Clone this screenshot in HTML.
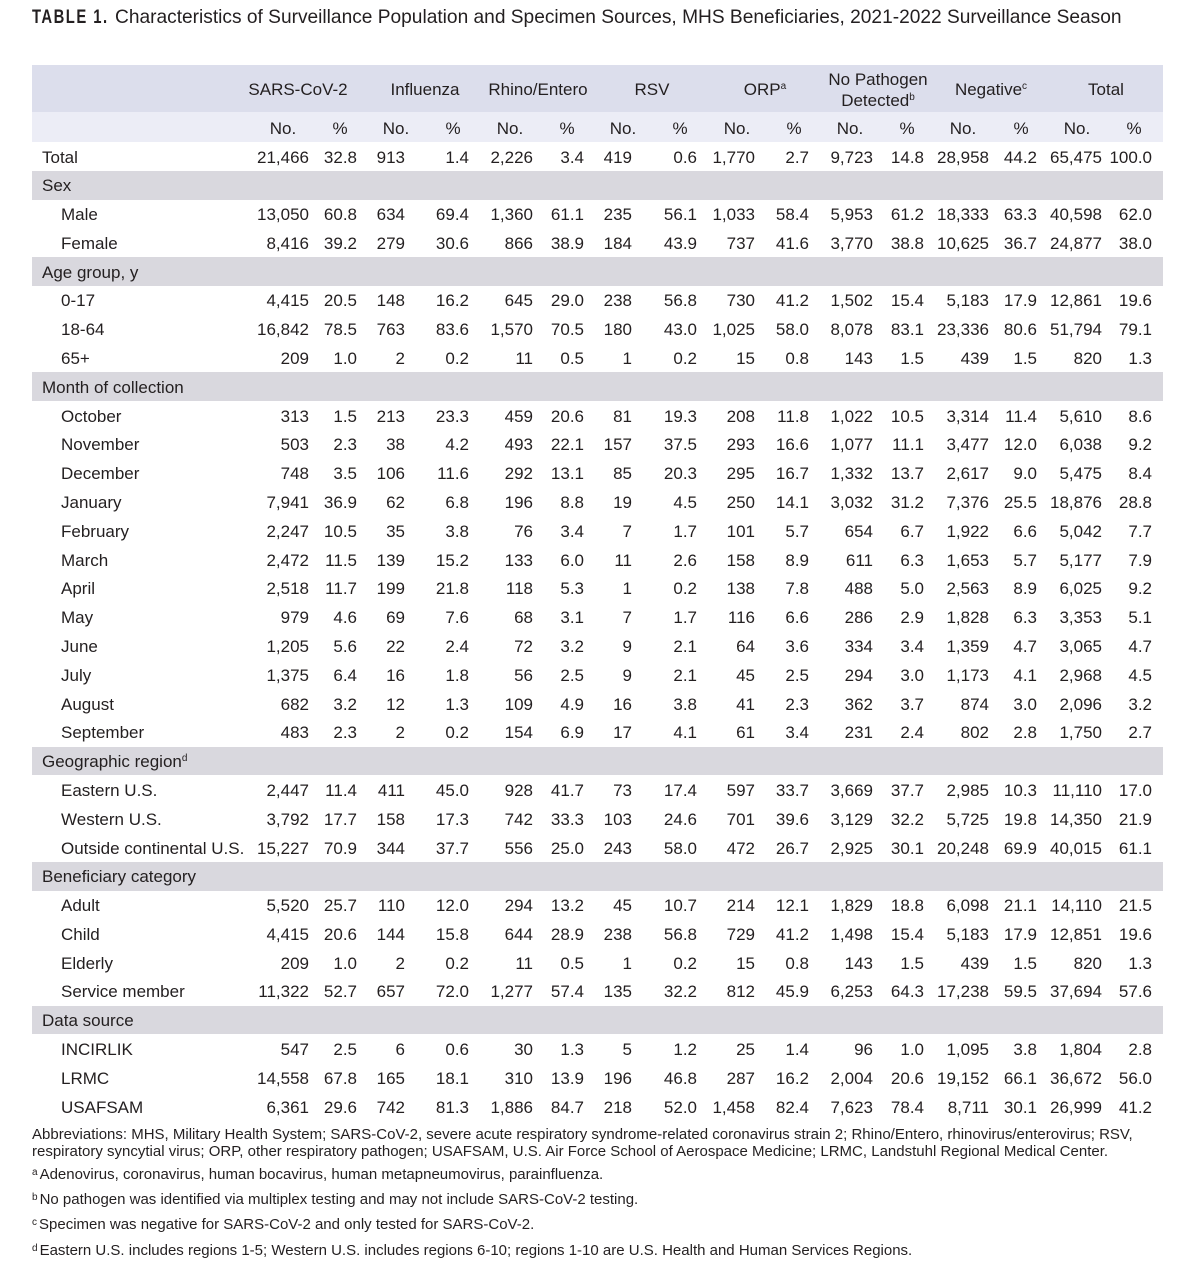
<!DOCTYPE html>
<html><head><meta charset="utf-8">
<style>
*{margin:0;padding:0;box-sizing:border-box}
html,body{width:1200px;height:1285px;background:#fff;overflow:hidden}
body{position:relative;font-family:"Liberation Sans",Arial,sans-serif;color:#231f20}
.t1{position:absolute;left:32px;top:6px;font-size:19px;font-weight:bold;letter-spacing:1.9px;transform:scaleX(0.78);transform-origin:left top;white-space:nowrap;line-height:24px}
.t2{position:absolute;left:115px;top:6px;font-size:19.15px;white-space:nowrap;line-height:24px}
.h1{position:absolute;left:32px;width:1131px;top:65px;height:47px;background:#dcdeec}
.h2{position:absolute;left:32px;width:1131px;top:112px;height:30px;background:#ecedf6}
.hc{position:absolute;font-size:17px;line-height:20px;text-align:center;white-space:nowrap;width:140px}
.band{position:absolute;left:32px;width:1131px;height:28.8px;background:#d9d8de}
.r{position:absolute;left:0;width:1200px;height:28.8px;line-height:28.8px;font-size:17px;white-space:nowrap}
.r span{position:absolute;top:1.5px}
.r span:nth-child(1){left:61px}
.r.s span:nth-child(1),.r.tt span:nth-child(1){left:42px}
.r span:nth-child(2){right:891px}
.r span:nth-child(3){right:843px}
.r span:nth-child(4){right:795px}
.r span:nth-child(5){right:731px}
.r span:nth-child(6){right:667px}
.r span:nth-child(7){right:616px}
.r span:nth-child(8){right:568px}
.r span:nth-child(9){right:503px}
.r span:nth-child(10){right:445px}
.r span:nth-child(11){right:391px}
.r span:nth-child(12){right:327px}
.r span:nth-child(13){right:276px}
.r span:nth-child(14){right:211px}
.r span:nth-child(15){right:163px}
.r span:nth-child(16){right:98px}
.r span:nth-child(17){right:48px}
sup{font-size:10px;vertical-align:0;position:relative;top:-6px}
.fn{position:absolute;left:32px;font-size:15px;line-height:17px;white-space:nowrap}
.fn sup{font-size:10px;top:-4px;margin-right:2px}
</style></head><body>
<div class="t1">TABLE 1.</div>
<div class="t2">Characteristics of Surveillance Population and Specimen Sources, MHS Beneficiaries, 2021-2022 Surveillance Season</div>

<div class="h1"></div>
<div class="h2"></div>
<div class="hc" style="left:228px;top:80px">SARS-CoV-2</div>
<div class="hc" style="left:355px;top:80px">Influenza</div>
<div class="hc" style="left:468px;top:80px">Rhino/Entero</div>
<div class="hc" style="left:582px;top:80px">RSV</div>
<div class="hc" style="left:695px;top:80px">ORP<sup>a</sup></div>
<div class="hc" style="left:808px;top:70px">No Pathogen</div>
<div class="hc" style="left:808px;top:91px">Detected<sup>b</sup></div>
<div class="hc" style="left:921px;top:80px">Negative<sup>c</sup></div>
<div class="hc" style="left:1036px;top:80px">Total</div>

<div class="hc" style="left:213px;top:119px">No.</div>
<div class="hc" style="left:270px;top:119px">%</div>
<div class="hc" style="left:326px;top:119px">No.</div>
<div class="hc" style="left:383px;top:119px">%</div>
<div class="hc" style="left:440px;top:119px">No.</div>
<div class="hc" style="left:497px;top:119px">%</div>
<div class="hc" style="left:553px;top:119px">No.</div>
<div class="hc" style="left:610px;top:119px">%</div>
<div class="hc" style="left:667px;top:119px">No.</div>
<div class="hc" style="left:724px;top:119px">%</div>
<div class="hc" style="left:780px;top:119px">No.</div>
<div class="hc" style="left:837px;top:119px">%</div>
<div class="hc" style="left:893px;top:119px">No.</div>
<div class="hc" style="left:951px;top:119px">%</div>
<div class="hc" style="left:1007px;top:119px">No.</div>
<div class="hc" style="left:1064px;top:119px">%</div>

<div class="band" style="top:170.8px"></div>
<div class="band" style="top:257.2px"></div>
<div class="band" style="top:372.3px"></div>
<div class="band" style="top:746.6px"></div>
<div class="band" style="top:861.8px"></div>
<div class="band" style="top:1005.7px"></div>

<div class="r tt" style="top:142px"><span>Total</span><span>21,466</span><span>32.8</span><span>913</span><span>1.4</span><span>2,226</span><span>3.4</span><span>419</span><span>0.6</span><span>1,770</span><span>2.7</span><span>9,723</span><span>14.8</span><span>28,958</span><span>44.2</span><span>65,475</span><span>100.0</span></div>
<div class="r s" style="top:170.8px"><span>Sex</span></div>
<div class="r" style="top:199.6px"><span>Male</span><span>13,050</span><span>60.8</span><span>634</span><span>69.4</span><span>1,360</span><span>61.1</span><span>235</span><span>56.1</span><span>1,033</span><span>58.4</span><span>5,953</span><span>61.2</span><span>18,333</span><span>63.3</span><span>40,598</span><span>62.0</span></div>
<div class="r" style="top:228.4px"><span>Female</span><span>8,416</span><span>39.2</span><span>279</span><span>30.6</span><span>866</span><span>38.9</span><span>184</span><span>43.9</span><span>737</span><span>41.6</span><span>3,770</span><span>38.8</span><span>10,625</span><span>36.7</span><span>24,877</span><span>38.0</span></div>
<div class="r s" style="top:257.2px"><span>Age group, y</span></div>
<div class="r" style="top:285.9px"><span>0-17</span><span>4,415</span><span>20.5</span><span>148</span><span>16.2</span><span>645</span><span>29.0</span><span>238</span><span>56.8</span><span>730</span><span>41.2</span><span>1,502</span><span>15.4</span><span>5,183</span><span>17.9</span><span>12,861</span><span>19.6</span></div>
<div class="r" style="top:314.7px"><span>18-64</span><span>16,842</span><span>78.5</span><span>763</span><span>83.6</span><span>1,570</span><span>70.5</span><span>180</span><span>43.0</span><span>1,025</span><span>58.0</span><span>8,078</span><span>83.1</span><span>23,336</span><span>80.6</span><span>51,794</span><span>79.1</span></div>
<div class="r" style="top:343.5px"><span>65+</span><span>209</span><span>1.0</span><span>2</span><span>0.2</span><span>11</span><span>0.5</span><span>1</span><span>0.2</span><span>15</span><span>0.8</span><span>143</span><span>1.5</span><span>439</span><span>1.5</span><span>820</span><span>1.3</span></div>
<div class="r s" style="top:372.3px"><span>Month of collection</span></div>
<div class="r" style="top:401.1px"><span>October</span><span>313</span><span>1.5</span><span>213</span><span>23.3</span><span>459</span><span>20.6</span><span>81</span><span>19.3</span><span>208</span><span>11.8</span><span>1,022</span><span>10.5</span><span>3,314</span><span>11.4</span><span>5,610</span><span>8.6</span></div>
<div class="r" style="top:429.9px"><span>November</span><span>503</span><span>2.3</span><span>38</span><span>4.2</span><span>493</span><span>22.1</span><span>157</span><span>37.5</span><span>293</span><span>16.6</span><span>1,077</span><span>11.1</span><span>3,477</span><span>12.0</span><span>6,038</span><span>9.2</span></div>
<div class="r" style="top:458.7px"><span>December</span><span>748</span><span>3.5</span><span>106</span><span>11.6</span><span>292</span><span>13.1</span><span>85</span><span>20.3</span><span>295</span><span>16.7</span><span>1,332</span><span>13.7</span><span>2,617</span><span>9.0</span><span>5,475</span><span>8.4</span></div>
<div class="r" style="top:487.5px"><span>January</span><span>7,941</span><span>36.9</span><span>62</span><span>6.8</span><span>196</span><span>8.8</span><span>19</span><span>4.5</span><span>250</span><span>14.1</span><span>3,032</span><span>31.2</span><span>7,376</span><span>25.5</span><span>18,876</span><span>28.8</span></div>
<div class="r" style="top:516.3px"><span>February</span><span>2,247</span><span>10.5</span><span>35</span><span>3.8</span><span>76</span><span>3.4</span><span>7</span><span>1.7</span><span>101</span><span>5.7</span><span>654</span><span>6.7</span><span>1,922</span><span>6.6</span><span>5,042</span><span>7.7</span></div>
<div class="r" style="top:545.1px"><span>March</span><span>2,472</span><span>11.5</span><span>139</span><span>15.2</span><span>133</span><span>6.0</span><span>11</span><span>2.6</span><span>158</span><span>8.9</span><span>611</span><span>6.3</span><span>1,653</span><span>5.7</span><span>5,177</span><span>7.9</span></div>
<div class="r" style="top:573.9px"><span>April</span><span>2,518</span><span>11.7</span><span>199</span><span>21.8</span><span>118</span><span>5.3</span><span>1</span><span>0.2</span><span>138</span><span>7.8</span><span>488</span><span>5.0</span><span>2,563</span><span>8.9</span><span>6,025</span><span>9.2</span></div>
<div class="r" style="top:602.6px"><span>May</span><span>979</span><span>4.6</span><span>69</span><span>7.6</span><span>68</span><span>3.1</span><span>7</span><span>1.7</span><span>116</span><span>6.6</span><span>286</span><span>2.9</span><span>1,828</span><span>6.3</span><span>3,353</span><span>5.1</span></div>
<div class="r" style="top:631.4px"><span>June</span><span>1,205</span><span>5.6</span><span>22</span><span>2.4</span><span>72</span><span>3.2</span><span>9</span><span>2.1</span><span>64</span><span>3.6</span><span>334</span><span>3.4</span><span>1,359</span><span>4.7</span><span>3,065</span><span>4.7</span></div>
<div class="r" style="top:660.2px"><span>July</span><span>1,375</span><span>6.4</span><span>16</span><span>1.8</span><span>56</span><span>2.5</span><span>9</span><span>2.1</span><span>45</span><span>2.5</span><span>294</span><span>3.0</span><span>1,173</span><span>4.1</span><span>2,968</span><span>4.5</span></div>
<div class="r" style="top:689.0px"><span>August</span><span>682</span><span>3.2</span><span>12</span><span>1.3</span><span>109</span><span>4.9</span><span>16</span><span>3.8</span><span>41</span><span>2.3</span><span>362</span><span>3.7</span><span>874</span><span>3.0</span><span>2,096</span><span>3.2</span></div>
<div class="r" style="top:717.8px"><span>September</span><span>483</span><span>2.3</span><span>2</span><span>0.2</span><span>154</span><span>6.9</span><span>17</span><span>4.1</span><span>61</span><span>3.4</span><span>231</span><span>2.4</span><span>802</span><span>2.8</span><span>1,750</span><span>2.7</span></div>
<div class="r s" style="top:746.6px"><span>Geographic region<sup>d</sup></span></div>
<div class="r" style="top:775.4px"><span>Eastern U.S.</span><span>2,447</span><span>11.4</span><span>411</span><span>45.0</span><span>928</span><span>41.7</span><span>73</span><span>17.4</span><span>597</span><span>33.7</span><span>3,669</span><span>37.7</span><span>2,985</span><span>10.3</span><span>11,110</span><span>17.0</span></div>
<div class="r" style="top:804.2px"><span>Western U.S.</span><span>3,792</span><span>17.7</span><span>158</span><span>17.3</span><span>742</span><span>33.3</span><span>103</span><span>24.6</span><span>701</span><span>39.6</span><span>3,129</span><span>32.2</span><span>5,725</span><span>19.8</span><span>14,350</span><span>21.9</span></div>
<div class="r" style="top:833.0px"><span>Outside continental U.S.</span><span>15,227</span><span>70.9</span><span>344</span><span>37.7</span><span>556</span><span>25.0</span><span>243</span><span>58.0</span><span>472</span><span>26.7</span><span>2,925</span><span>30.1</span><span>20,248</span><span>69.9</span><span>40,015</span><span>61.1</span></div>
<div class="r s" style="top:861.8px"><span>Beneficiary category</span></div>
<div class="r" style="top:890.5px"><span>Adult</span><span>5,520</span><span>25.7</span><span>110</span><span>12.0</span><span>294</span><span>13.2</span><span>45</span><span>10.7</span><span>214</span><span>12.1</span><span>1,829</span><span>18.8</span><span>6,098</span><span>21.1</span><span>14,110</span><span>21.5</span></div>
<div class="r" style="top:919.3px"><span>Child</span><span>4,415</span><span>20.6</span><span>144</span><span>15.8</span><span>644</span><span>28.9</span><span>238</span><span>56.8</span><span>729</span><span>41.2</span><span>1,498</span><span>15.4</span><span>5,183</span><span>17.9</span><span>12,851</span><span>19.6</span></div>
<div class="r" style="top:948.1px"><span>Elderly</span><span>209</span><span>1.0</span><span>2</span><span>0.2</span><span>11</span><span>0.5</span><span>1</span><span>0.2</span><span>15</span><span>0.8</span><span>143</span><span>1.5</span><span>439</span><span>1.5</span><span>820</span><span>1.3</span></div>
<div class="r" style="top:976.9px"><span>Service member</span><span>11,322</span><span>52.7</span><span>657</span><span>72.0</span><span>1,277</span><span>57.4</span><span>135</span><span>32.2</span><span>812</span><span>45.9</span><span>6,253</span><span>64.3</span><span>17,238</span><span>59.5</span><span>37,694</span><span>57.6</span></div>
<div class="r s" style="top:1005.7px"><span>Data source</span></div>
<div class="r" style="top:1034.5px"><span>INCIRLIK</span><span>547</span><span>2.5</span><span>6</span><span>0.6</span><span>30</span><span>1.3</span><span>5</span><span>1.2</span><span>25</span><span>1.4</span><span>96</span><span>1.0</span><span>1,095</span><span>3.8</span><span>1,804</span><span>2.8</span></div>
<div class="r" style="top:1063.3px"><span>LRMC</span><span>14,558</span><span>67.8</span><span>165</span><span>18.1</span><span>310</span><span>13.9</span><span>196</span><span>46.8</span><span>287</span><span>16.2</span><span>2,004</span><span>20.6</span><span>19,152</span><span>66.1</span><span>36,672</span><span>56.0</span></div>
<div class="r" style="top:1092.1px"><span>USAFSAM</span><span>6,361</span><span>29.6</span><span>742</span><span>81.3</span><span>1,886</span><span>84.7</span><span>218</span><span>52.0</span><span>1,458</span><span>82.4</span><span>7,623</span><span>78.4</span><span>8,711</span><span>30.1</span><span>26,999</span><span>41.2</span></div>

<div class="fn" style="top:1126px">Abbreviations: MHS, Military Health System; SARS-CoV-2, severe acute respiratory syndrome-related coronavirus strain 2; Rhino/Entero, rhinovirus/enterovirus; RSV,<br>respiratory syncytial virus; ORP, other respiratory pathogen; USAFSAM, U.S. Air Force School of Aerospace Medicine; LRMC, Landstuhl Regional Medical Center.</div>
<div class="fn" style="top:1166px"><sup>a</sup>Adenovirus, coronavirus, human bocavirus, human metapneumovirus, parainfluenza.</div>
<div class="fn" style="top:1191px"><sup>b</sup>No pathogen was identified via multiplex testing and may not include SARS-CoV-2 testing.</div>
<div class="fn" style="top:1216px"><sup>c</sup>Specimen was negative for SARS-CoV-2 and only tested for SARS-CoV-2.</div>
<div class="fn" style="top:1242px"><sup>d</sup>Eastern U.S. includes regions 1-5; Western U.S. includes regions 6-10; regions 1-10 are U.S. Health and Human Services Regions.</div>
</body></html>
